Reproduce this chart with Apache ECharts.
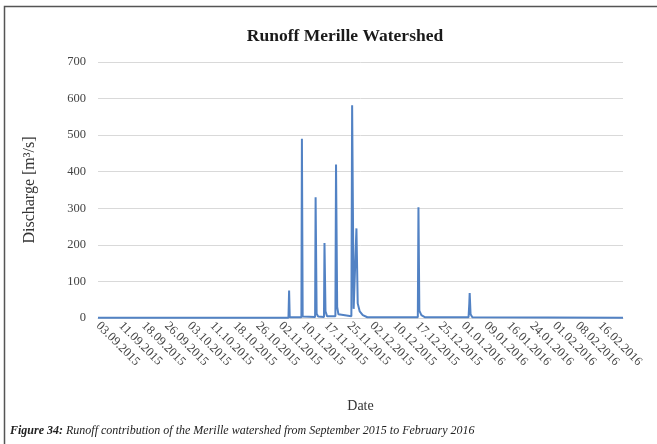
<!DOCTYPE html>
<html>
<head>
<meta charset="utf-8">
<script src="https://cdn.jsdelivr.net/npm/echarts@6/dist/echarts.min.js"></script>
<style>
  html, body { margin: 0; padding: 0; background: #fff; }
  #chart { width: 657px; height: 444px; }
</style>
</head>
<body>
<div id="chart"></div>
<script>
// tick labels, one every 7.5 days from 03.09.2015
var tickLabels = ['03.09.2015', '11.09.2015', '18.09.2015', '26.09.2015', '03.10.2015', '11.10.2015',
  '18.10.2015', '26.10.2015', '02.11.2015', '10.11.2015', '17.11.2015', '25.11.2015', '02.12.2015',
  '10.12.2015', '17.12.2015', '25.12.2015', '01.01.2016', '09.01.2016', '16.01.2016', '24.01.2016',
  '01.02.2016', '08.02.2016', '16.02.2016'];
var tickStep = 7.5;

// discharge readings [date, m3/s]
var times = ['2015-09-03 00:00', '2015-11-04 14:00', '2015-11-04 19:00', '2015-11-05 00:00',
  '2015-11-08 20:00', '2015-11-09 00:00', '2015-11-09 06:00', '2015-11-13 08:00', '2015-11-13 12:00',
  '2015-11-13 20:00', '2015-11-14 08:00', '2015-11-16 06:00', '2015-11-16 10:00', '2015-11-16 18:00',
  '2015-11-17 06:00', '2015-11-20 00:00', '2015-11-20 05:00', '2015-11-20 14:00', '2015-11-21 00:00',
  '2015-11-21 12:00', '2015-11-25 06:00', '2015-11-25 12:00', '2015-11-26 00:00', '2015-11-26 14:00',
  '2015-11-26 22:00', '2015-11-27 08:00', '2015-11-28 00:00', '2015-11-29 00:00', '2015-11-30 12:00',
  '2015-12-17 02:00', '2015-12-17 07:00', '2015-12-17 14:00', '2015-12-18 06:00', '2015-12-19 12:00',
  '2015-12-26 00:00', '2015-12-26 12:00', '2015-12-27 00:00', '2016-01-02 18:00', '2016-01-03 00:00',
  '2016-01-03 03:00', '2016-01-03 10:00', '2016-01-04 00:00', '2016-02-22 12:00'];
var discharge = [1, 1, 75, 2,
  2, 490, 4, 3, 330,
  12, 4, 3, 205, 18,
  5, 5, 420, 30, 10,
  5, 5, 582, 25, 30,
  245, 40, 18, 8, 2,
  2, 303, 20, 8, 2,
  2, 4, 2, 2, 40,
  68, 10, 2, 1];

function dayOffset(s) {
  var p = s.split(/[- :]/).map(Number);
  return (Date.UTC(p[0], p[1] - 1, p[2], p[3], p[4]) - Date.UTC(2015, 8, 3)) / 86400000;
}

window.onload = function () {
  var serif = 'Liberation Serif, Times New Roman, serif';
  var data = [];
  for (var i = 0; i < times.length; i++) {
    data.push([dayOffset(times[i]), discharge[i]]);
  }
  var chart = echarts.init(document.getElementById('chart'));
  chart.setOption({
    backgroundColor: '#fff',
    animation: false,
    title: {
      text: 'Runoff Merille Watershed',
      left: 340,
      top: 22,
      textAlign: 'center',
      textStyle: { fontFamily: serif, fontSize: 17.5, fontWeight: 'bold', color: '#1a1a1a' }
    },
    grid: { left: 98, right: 34, top: 62, bottom: 126 },
    xAxis: {
      type: 'value',
      min: 0,
      max: tickStep * 23,
      interval: tickStep,
      name: 'Date',
      nameLocation: 'middle',
      nameGap: 81,
      nameTextStyle: { fontFamily: serif, fontSize: 14, color: '#333' },
      axisLine: { lineStyle: { color: '#d9d9d9' } },
      axisTick: { show: false },
      splitLine: { show: false },
      axisLabel: {
        rotate: -45,
        margin: 6,
        fontFamily: serif,
        fontSize: 12.5,
        color: '#444',
        showMaxLabel: true,
        formatter: function (v) {
          var k = Math.round(v / tickStep);
          return tickLabels[k] || '';
        }
      }
    },
    yAxis: {
      type: 'value',
      min: 0,
      max: 700,
      interval: 100,
      name: 'Discharge [m³/s]',
      nameLocation: 'middle',
      nameGap: 60,
      nameRotate: 90,
      nameTextStyle: { fontFamily: serif, fontSize: 16, color: '#333' },
      axisLine: { show: false },
      axisTick: { show: false },
      axisLabel: { fontFamily: serif, fontSize: 12.5, color: '#444', margin: 12 },
      splitLine: { lineStyle: { color: '#d9d9d9', width: 1 } }
    },
    series: [{
      type: 'line',
      data: data,
      symbol: 'none',
      lineStyle: { color: '#5282c4', width: 2 },
      z: 3
    }],
    graphic: [
      {
        type: 'polyline',
        shape: { points: [[4.5, 444], [4.5, 6.5], [657, 6.5]] },
        style: { stroke: '#555', lineWidth: 1.5, fill: null }
      },
      {
        type: 'text',
        left: 10,
        top: 425,
        style: {
          text: '{b|Figure 34:} Runoff contribution of the Merille watershed from September 2015 to February 2016',
          font: 'italic 12px ' + serif,
          fill: '#222',
          rich: {
            b: { fontFamily: serif, fontStyle: 'italic', fontWeight: 'bold', fontSize: 12, fill: '#222' }
          }
        }
      }
    ]
  });
};
</script>
</body>
</html>
